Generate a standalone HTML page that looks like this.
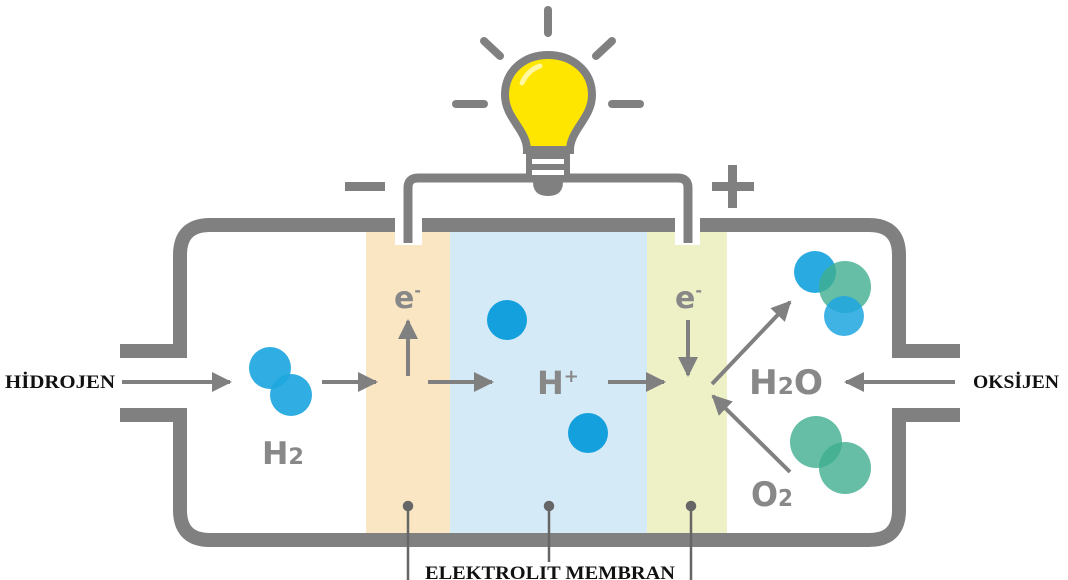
<!DOCTYPE html>
<html><head><meta charset="utf-8"><style>
html,body{margin:0;padding:0;background:#fff;}
svg{display:block;}
</style></head><body>
<svg width="1068" height="580" viewBox="0 0 1068 580" xmlns="http://www.w3.org/2000/svg">
<defs>
<marker id="ah2" viewBox="0 0 10 10" markerWidth="20" markerHeight="20" refX="9" refY="5" orient="auto" markerUnits="userSpaceOnUse"><path d="M0,0 L10,5 L0,10 Z" fill="#808080"/></marker>
</defs>
<rect x="366" y="232" width="84" height="302" fill="#fbe6c3"/>
<rect x="450" y="232" width="197" height="302" fill="#d5eaf7"/>
<rect x="647" y="232" width="80" height="302" fill="#eef0c5"/>
<g fill="none" stroke="#808080" stroke-width="14">
<path d="M120,351 H180 V255 Q180,225 210,225 H395"/>
<path d="M422,225 H675"/>
<path d="M700,225 H869 Q899,225 899,255 V351 H960"/>
<path d="M120,415 H180 V510 Q180,540 210,540 H869 Q899,540 899,510 V415 H960"/>
</g>
<rect x="395" y="215" width="27" height="30" fill="#fff"/>
<rect x="675" y="215" width="25" height="30" fill="#fff"/>
<path d="M408,243 V188 Q408,178 418,178 H678 Q688,178 688,188 V243" fill="none" stroke="#808080" stroke-width="9"/>
<path d="M527,150 C527,130 505,118 505,95 C505,70 525,55 548,55 C571,55 592,70 592,95 C592,118 570,130 570,150 Z" fill="#ffe600" stroke="#808080" stroke-width="8"/>
<path d="M522,83 Q528,70 540,66" stroke="#fff8a0" stroke-width="5" fill="none" stroke-linecap="round"/>
<rect x="526" y="150" width="44" height="32" rx="4" fill="#808080"/>
<rect x="532" y="159" width="32" height="5" fill="#fff"/>
<rect x="532" y="170" width="32" height="5" fill="#fff"/>
<path d="M533,182 H563 Q563,196 548,196 Q533,196 533,182 Z" fill="#808080"/>
<g stroke="#808080" stroke-width="8" stroke-linecap="round">
<line x1="548" y1="10" x2="548" y2="33"/>
<line x1="484" y1="41" x2="500" y2="56"/>
<line x1="612" y1="41" x2="596" y2="56"/>
<line x1="456" y1="104" x2="484" y2="104"/>
<line x1="612" y1="104" x2="640" y2="104"/>
</g>
<rect x="345" y="182" width="40" height="9" fill="#808080"/>
<rect x="712" y="182" width="42" height="9" fill="#808080"/>
<rect x="728" y="165" width="9" height="43" fill="#808080"/>
<g>
<circle cx="270" cy="368" r="21" fill="#1ea6e0" opacity="0.92"/>
<circle cx="291" cy="395" r="21" fill="#1ea6e0" opacity="0.92"/>
<circle cx="507" cy="320" r="20" fill="#14a0dd"/>
<circle cx="588" cy="433" r="20" fill="#14a0dd"/>
<circle cx="815" cy="272" r="21" fill="#1ea6e0" opacity="0.95"/>
<circle cx="845" cy="287" r="26" fill="#3fae8e" opacity="0.8"/>
<circle cx="844" cy="316" r="20" fill="#1ea6e0" opacity="0.85"/>
<circle cx="816" cy="442" r="26" fill="#3fae8e" opacity="0.8"/>
<circle cx="845" cy="468" r="26" fill="#3fae8e" opacity="0.8"/>
</g>
<g font-family="'DejaVu Sans','Liberation Sans',sans-serif" font-weight="bold" fill="#888">
<text x="262" y="464" font-size="31" textLength="42" lengthAdjust="spacingAndGlyphs">H<tspan font-size="22">2</tspan></text>
<text x="394" y="308" font-size="30">e<tspan font-size="16" dy="-12">-</tspan></text>
<text x="537" y="394" font-size="32">H<tspan font-size="18" dy="-12">+</tspan></text>
<text x="675" y="308" font-size="30">e<tspan font-size="16" dy="-12">-</tspan></text>
<text x="749" y="394" font-size="34" textLength="74" lengthAdjust="spacingAndGlyphs">H<tspan font-size="23">2</tspan>O</text>
<text x="751" y="506" font-size="34" textLength="42" lengthAdjust="spacingAndGlyphs">O<tspan font-size="23">2</tspan></text>
</g>
<g stroke="#808080" stroke-width="4" fill="none">
<line x1="122" y1="382" x2="230" y2="382" marker-end="url(#ah2)"/>
<line x1="322" y1="382" x2="376" y2="382" marker-end="url(#ah2)"/>
<line x1="408" y1="376" x2="408" y2="321" marker-end="url(#ah2)"/>
<line x1="428" y1="382" x2="492" y2="382" marker-end="url(#ah2)"/>
<line x1="608" y1="382" x2="664" y2="382" marker-end="url(#ah2)"/>
<line x1="688" y1="320" x2="688" y2="375" marker-end="url(#ah2)"/>
<line x1="712" y1="384" x2="790" y2="302" marker-end="url(#ah2)"/>
<line x1="790" y1="472" x2="713" y2="396" marker-end="url(#ah2)"/>
<line x1="955" y1="382" x2="846" y2="382" marker-end="url(#ah2)"/>
</g>
<g fill="#666" stroke="#666" stroke-width="2.5">
<circle cx="408" cy="506" r="4"/><line x1="408" y1="506" x2="408" y2="580"/>
<circle cx="549" cy="506" r="4"/><line x1="549" y1="506" x2="549" y2="562"/>
<circle cx="691" cy="506" r="4"/><line x1="691" y1="506" x2="691" y2="580"/>
</g>
<g font-family="'Liberation Serif',serif" font-weight="bold" fill="#111">
<text x="5" y="388" font-size="19" textLength="110" lengthAdjust="spacingAndGlyphs">HİDROJEN</text>
<text x="973" y="388" font-size="19" textLength="86" lengthAdjust="spacingAndGlyphs">OKSİJEN</text>
<text x="425" y="579" font-size="19" textLength="250" lengthAdjust="spacingAndGlyphs">ELEKTROLIT MEMBRAN</text>
</g>
</svg>
</body></html>
